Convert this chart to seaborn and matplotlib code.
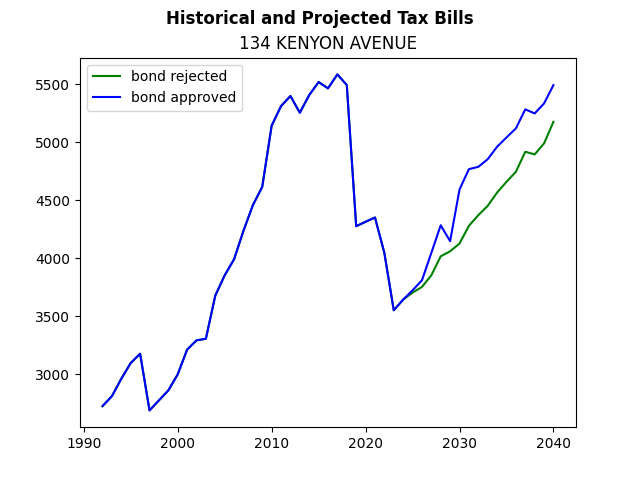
import matplotlib
matplotlib.use("Agg")
import matplotlib.pyplot as plt
import seaborn as sns
import pandas as pd

# Tax bill history (shared) and projections under the two bond outcomes
years = list(range(1992, 2041))

history = [2727, 2813, 2963, 3098, 3178, 2690, 2776, 2862, 3000, 3213,
           3293, 3307, 3678, 3853, 3991, 4236, 4457, 4615, 5141, 5310,
           5397, 5253, 5405, 5517, 5463, 5583, 5491, 4276, 4314, 4351,
           4046, 3552]  # 1992-2023

rejected_proj = [3644, 3704, 3753, 3853, 4017, 4060, 4127, 4279, 4371,
                 4451, 4566, 4658, 4744, 4917, 4894, 4989, 5175]  # 2024-2040
approved_proj = [3644, 3724, 3810, 4046, 4284, 4147, 4592, 4767, 4787,
                 4853, 4960, 5040, 5118, 5282, 5247, 5333, 5491]  # 2024-2040

df = pd.DataFrame({
    'Year': years,
    'bond rejected': history + rejected_proj,
    'bond approved': history + approved_proj,
})

fig, ax = plt.subplots(figsize=(6.4, 4.8), dpi=100)
sns.lineplot(data=df, x='Year', y='bond rejected', label='bond rejected', color='green', ax=ax)
sns.lineplot(data=df, x='Year', y='bond approved', label='bond approved', color='blue', ax=ax)
ax.set_xlabel('')
ax.set_ylabel('')
ax.set_title('134 KENYON AVENUE')
fig.suptitle('Historical and Projected Tax Bills', fontweight='bold')
ax.legend(loc='upper left')
plt.savefig('out.png', dpi=100)
